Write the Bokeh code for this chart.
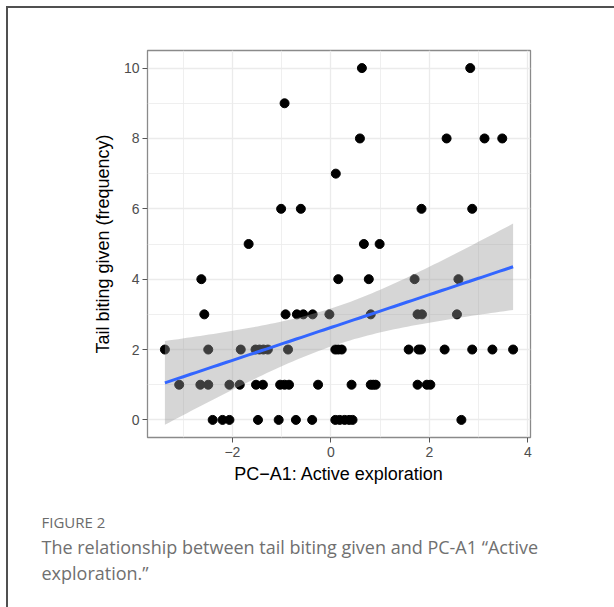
import numpy as np
from bokeh.plotting import figure
from bokeh.models import Range1d, FixedTicker, Title
from bokeh.embed import file_html
from bokeh.resources import INLINE

# Data: x positions (PC-A1) grouped by tail-biting frequency
x_by_freq = {
    10: [0.63, 2.83],
    9: [-0.94],
    8: [0.59, 2.35, 3.12, 3.48],
    7: [0.10],
    6: [-1.01, -0.61, 1.84, 2.87],
    5: [-1.67, 0.67, 0.99],
    4: [-2.63, 0.15, 0.77, 1.70, 2.59],
    3: [-2.57, -0.92, -0.69, -0.56, -0.37, -0.03, 0.81, 1.76, 1.85, 2.56],
    2: [-3.37, -2.49, -1.83, -1.53, -1.45, -1.37, -1.28, -0.87, 0.09, 0.15, 0.22,
        1.58, 1.78, 1.83, 2.31, 2.87, 3.28, 3.70],
    1: [-3.08, -2.65, -2.49, -2.06, -1.85, -1.52, -1.38, -1.03, -0.94, -0.85, -0.26,
        0.42, 0.81, 0.86, 0.91, 1.76, 1.95, 2.02],
    0: [-2.40, -2.20, -2.06, -1.48, -1.06, -0.71, -0.38, 0.09, 0.18, 0.28, 0.37, 0.44, 2.65],
}
x_ticks = [-2, 0, 2, 4]
x_minor = [-3, -1, 1, 3]
y_ticks = [0, 2, 4, 6, 8, 10]
y_minor = [1, 3, 5, 7, 9]
x_title = "PC\u2212A1: Active exploration"
y_title = "Tail biting given (frequency)"
fig_label = "FIGURE 2"
caption_lines = ["The relationship between tail biting given and PC-A1 \u201cActive",
                 "exploration.\u201d"]

xs = []
ys = []
for f, lst in x_by_freq.items():
    xs += lst
    ys += [f] * len(lst)
xs = np.array(xs, dtype=float)
ys = np.array(ys, dtype=float)

# linear fit with 95% confidence band (as geom_smooth(method="lm"))
n = len(xs)
slope, intercept = np.polyfit(xs, ys, 1)
resid = ys - (intercept + slope * xs)
s = np.sqrt(np.sum(resid ** 2) / (n - 2))
sxx = np.sum((xs - xs.mean()) ** 2)
t_crit = 1.991
grid = np.linspace(xs.min(), xs.max(), 80)
fit = intercept + slope * grid
se = s * np.sqrt(1.0 / n + (grid - xs.mean()) ** 2 / sxx)
lower = fit - t_crit * se
upper = fit + t_crit * se

pad_x = 0.05 * (xs.max() - xs.min())
p = figure(width=614, height=607, output_backend="svg", toolbar_location=None,
           x_range=Range1d(xs.min() - pad_x, xs.max() + pad_x),
           y_range=Range1d(-0.5, 10.5),
           min_border_left=147, min_border_right=84, min_border_top=50, min_border_bottom=170)
p.background_fill_color = "white"
p.border_fill_color = None
p.styles = {
    "background-color": "white",
    "background-image": "linear-gradient(#505050, #505050), linear-gradient(#505050, #505050)",
    "background-size": "100% 2px, 2px 100%",
    "background-position": "6px 6px, 6px 6px",
    "background-repeat": "no-repeat",
}
p.outline_line_color = "#8a8a8a"
p.outline_line_width = 1.3

p.xaxis.ticker = FixedTicker(ticks=x_ticks, minor_ticks=x_minor)
p.yaxis.ticker = FixedTicker(ticks=y_ticks, minor_ticks=y_minor)
p.xaxis.major_label_overrides = {t: (str(t).replace("-", "\u2212")) for t in x_ticks}
for ax in (p.xaxis[0], p.yaxis[0]):
    ax.axis_line_color = None
    ax.major_tick_line_color = "#555555"
    ax.major_tick_out = 5
    ax.major_tick_in = 0
    ax.minor_tick_line_color = None
    ax.major_label_text_font = "Liberation Sans"
    ax.major_label_text_font_size = "14px"
    ax.major_label_text_color = "#4d4d4d"
    ax.axis_label_text_font = "Liberation Sans"
    ax.axis_label_text_font_size = "18px"
    ax.axis_label_text_font_style = "normal"
    ax.axis_label_text_color = "black"
    ax.major_label_standoff = 3
p.xaxis.axis_label = x_title
p.yaxis.axis_label = y_title
p.xaxis.major_label_standoff = 4
p.xaxis.axis_label_standoff = 4
p.yaxis.axis_label_standoff = 8

for g in (p.xgrid[0], p.ygrid[0]):
    g.grid_line_color = "#ebebeb"
    g.grid_line_width = 1.3
    g.minor_grid_line_color = "#ebebeb"
    g.minor_grid_line_width = 0.8

p.scatter(xs, ys, size=9, color="black")
p.varea(x=grid, y1=lower, y2=upper, fill_color="#999999", fill_alpha=0.4)
p.line(grid, fit, line_color="#3366FF", line_width=3)

# figure caption as titles stacked below the x axis
p.add_layout(Title(text=fig_label, align="left", offset=-106, standoff=46,
                   text_font="Open Sans", text_font_size="15px", text_font_style="normal",
                   text_color="#6b6b6b"), "below")
p.add_layout(Title(text="\n".join(caption_lines), align="left", offset=-106, standoff=-42,
                   text_font="Open Sans", text_font_size="18px", text_font_style="normal",
                   text_line_height=1.09, text_color="#707070"), "below")

open("out.html", "w").write(file_html(p, INLINE))
